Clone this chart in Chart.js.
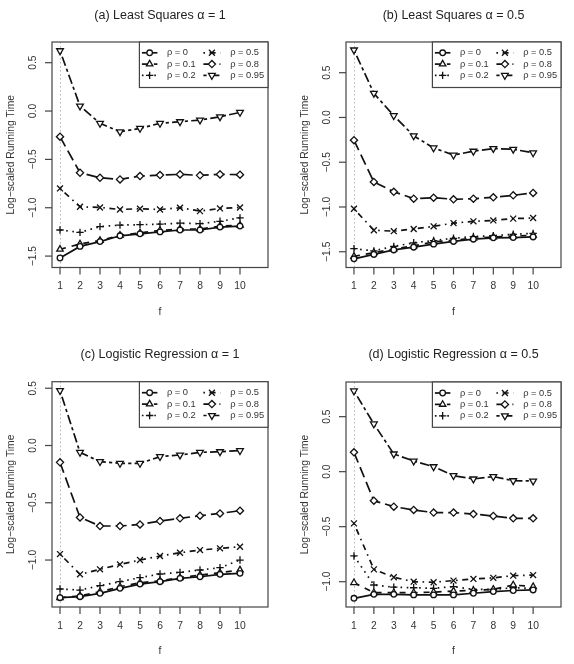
<!DOCTYPE html>
<html><head><meta charset="utf-8">
<script src="https://cdn.jsdelivr.net/npm/chart.js@4.4.1/dist/chart.umd.min.js"></script>
<style>
html,body{margin:0;padding:0;background:#fff;}
#wrap{position:relative;width:574px;height:664px;overflow:hidden;}
canvas{position:absolute;}
</style></head><body>
<div id="wrap">
<canvas id="cA" width="287" height="332" style="left:0;top:0"></canvas>
<canvas id="cB" width="287" height="332" style="left:287px;top:0"></canvas>
<canvas id="cC" width="287" height="332" style="left:0;top:332px"></canvas>
<canvas id="cD" width="287" height="332" style="left:287px;top:332px"></canvas>
</div>
<script>
// ---------- data ----------
const fVals = [1,2,3,4,5,6,7,8,9,10];
const xTicks = [1,2,3,4,5,6,7,8,9,10];
const yTicks = [-1.5,-1.0,-0.5,0.0,0.5];
const rhoLabels = ['ρ = 0','ρ = 0.1','ρ = 0.2','ρ = 0.5','ρ = 0.8','ρ = 0.95'];
const titles = ['(a) Least Squares α = 1','(b) Least Squares α = 0.5','(c) Logistic Regression α = 1','(d) Logistic Regression α = 0.5'];
const xTitle = 'f';
const yTitle = 'Log\u2212scaled Running Time';

// (a) Least Squares alpha = 1
const aRho0   = [-1.52,-1.40,-1.35,-1.29,-1.27,-1.25,-1.23,-1.23,-1.20,-1.19];
const aRho01  = [-1.43,-1.375,-1.34,-1.285,-1.26,-1.235,-1.22,-1.22,-1.19,-1.18];
const aRho02  = [-1.23,-1.255,-1.195,-1.18,-1.175,-1.17,-1.16,-1.165,-1.14,-1.105];
const aRho05  = [-0.80,-0.99,-0.997,-1.018,-1.01,-1.018,-1.00,-1.035,-1.007,-0.997];
const aRho08  = [-0.265,-0.638,-0.69,-0.707,-0.672,-0.662,-0.655,-0.665,-0.655,-0.658];
const aRho095 = [0.624,0.052,-0.127,-0.214,-0.179,-0.127,-0.11,-0.093,-0.059,-0.014];

// (b) Least Squares alpha = 0.5
const bRho0   = [-1.579,-1.53,-1.48,-1.449,-1.415,-1.385,-1.36,-1.345,-1.342,-1.335];
const bRho01  = [-1.552,-1.51,-1.47,-1.435,-1.39,-1.37,-1.35,-1.335,-1.325,-1.315];
const bRho02  = [-1.466,-1.49,-1.44,-1.40,-1.375,-1.35,-1.33,-1.32,-1.305,-1.295];
const bRho05  = [-1.02,-1.26,-1.27,-1.246,-1.216,-1.18,-1.16,-1.15,-1.13,-1.123];
const bRho08  = [-0.254,-0.72,-0.83,-0.907,-0.896,-0.914,-0.907,-0.892,-0.87,-0.843];
const bRho095 = [0.754,0.27,0.02,-0.205,-0.34,-0.42,-0.377,-0.347,-0.355,-0.395];

// (c) Logistic Regression alpha = 1
const cRho0   = [-1.329,-1.32,-1.291,-1.247,-1.21,-1.189,-1.16,-1.146,-1.125,-1.116];
const cRho01  = [-1.329,-1.312,-1.277,-1.233,-1.198,-1.181,-1.154,-1.131,-1.111,-1.087];
const cRho02  = [-1.253,-1.262,-1.224,-1.189,-1.154,-1.122,-1.108,-1.087,-1.067,-1.0];
const cRho05  = [-0.948,-1.125,-1.081,-1.038,-1.0,-0.965,-0.936,-0.913,-0.898,-0.884];
const cRho08  = [-0.147,-0.628,-0.703,-0.703,-0.689,-0.66,-0.636,-0.613,-0.593,-0.569];
const cRho095 = [0.479,-0.06,-0.141,-0.156,-0.156,-0.097,-0.083,-0.06,-0.054,-0.045];

// (d) Logistic Regression alpha = 0.5
const dRho0   = [-1.151,-1.115,-1.115,-1.12,-1.12,-1.12,-1.105,-1.09,-1.08,-1.075];
const dRho01  = [-1.009,-1.10,-1.10,-1.10,-1.095,-1.085,-1.08,-1.07,-1.03,-1.045];
const dRho02  = [-0.766,-1.03,-1.05,-1.055,-1.06,-1.045,-1.07,-1.07,-1.055,-1.06];
const dRho05  = [-0.47,-0.888,-0.96,-1.0,-1.005,-0.99,-0.975,-0.965,-0.945,-0.94];
const dRho08  = [0.176,-0.264,-0.318,-0.348,-0.372,-0.372,-0.385,-0.403,-0.424,-0.424];
const dRho095 = [0.734,0.434,0.161,0.097,0.045,-0.036,-0.066,-0.045,-0.082,-0.085];

// ---------- styles ----------
const LW = 1.7;
const seriesStyle = [
  {dash:[],                 pt:'circle',   r:2.8, rot:0},
  {dash:[6,6],              pt:'triangle', r:3.7, rot:0},
  {dash:[1.6,4.6],          pt:'cross',    r:3.7, rot:0},
  {dash:[1.6,4.6,6,4.6],    pt:'crossRot', r:4.2, rot:0},
  {dash:[11,5],             pt:'rectRot',  r:3.6, rot:0},
  {dash:[3.2,3.2,9.6,3.2],  pt:'triangle', r:3.9, rot:180}
];
const INK = '#111';
const TXT = '#333';
const FONT = '"Liberation Sans", Arial, Helvetica, sans-serif';

const panels = [
  {id:'cA', title:titles[0], titleY:16, series:[aRho0,aRho01,aRho02,aRho05,aRho08,aRho095], ymin:-1.618, ymax:0.714, pad:{left:52,top:42,right:19,bottom:64.5}, legRows:[10.8,22.1,33.4], legH:45.5},
  {id:'cB', title:titles[1], titleY:16, series:[bRho0,bRho01,bRho02,bRho05,bRho08,bRho095], ymin:-1.676, ymax:0.843, pad:{left:59,top:42,right:13,bottom:64.5}, legRows:[10.8,22.1,33.4], legH:45.5},
  {id:'cC', title:titles[2], titleY:23, series:[cRho0,cRho01,cRho02,cRho05,cRho08,cRho095], ymin:-1.41, ymax:0.557, pad:{left:52,top:49.7,right:19,bottom:57}, legRows:[11,22.4,33.8], legH:45.6},
  {id:'cD', title:titles[3], titleY:23, series:[dRho0,dRho01,dRho02,dRho05,dRho08,dRho095], ymin:-1.23, ymax:0.815, pad:{left:59,top:50,right:13,bottom:57}, legRows:[11,22.4,33.8], legH:45.3}
];

function fmtTick(v){
  const s = v.toFixed(1);
  return v < 0 ? '\u2212' + s.slice(1) : s;
}

const framePlugin = {
  id:'rframe',
  beforeDatasetsDraw(chart){
    const ctx = chart.ctx, a = chart.chartArea, xs = chart.scales.x;
    ctx.save();
    ctx.strokeStyle = '#b5b5b5';
    ctx.lineWidth = 1;
    ctx.setLineDash([1.5,2.5]);
    const px = Math.round(xs.getPixelForValue(1)) + 0.5;
    ctx.beginPath(); ctx.moveTo(px, a.top); ctx.lineTo(px, a.bottom); ctx.stroke();
    ctx.restore();
  },
  afterDraw(chart, args, opts){
    const ctx = chart.ctx, a = chart.chartArea, xs = chart.scales.x, ys = chart.scales.y;
    const p = opts.panel;
    ctx.save();
    ctx.setLineDash([]);
    // box
    ctx.strokeStyle = '#444';
    ctx.lineWidth = 1.2;
    ctx.strokeRect(a.left, a.top, a.right - a.left, a.bottom - a.top);
    // x ticks
    ctx.fillStyle = TXT;
    ctx.font = '10.3px ' + FONT;
    ctx.textAlign = 'center';
    ctx.textBaseline = 'middle';
    xTicks.forEach(t => {
      const x = xs.getPixelForValue(t);
      ctx.beginPath(); ctx.moveTo(x, a.bottom); ctx.lineTo(x, a.bottom + 7); ctx.stroke();
      ctx.fillText(String(t), x, a.bottom + 19);
    });
    // y ticks
    yTicks.forEach(t => {
      if (t < p.ymin || t > p.ymax) return;
      const y = ys.getPixelForValue(t);
      ctx.beginPath(); ctx.moveTo(a.left, y); ctx.lineTo(a.left - 7, y); ctx.stroke();
      ctx.save();
      ctx.translate(a.left - 19, y);
      ctx.rotate(-Math.PI/2);
      ctx.fillText(fmtTick(t), 0, 0);
      ctx.restore();
    });
    // axis titles
    ctx.fillText(xTitle, (a.left + a.right)/2, a.bottom + 44.5);
    ctx.save();
    ctx.translate(a.left - 40.5, (a.top + a.bottom)/2);
    ctx.rotate(-Math.PI/2);
    ctx.fillText(yTitle, 0, 0);
    ctx.restore();
    // main title
    ctx.font = '12.5px ' + FONT;
    ctx.fillStyle = '#222';
    ctx.fillText(p.title, (a.left + a.right)/2, p.titleY);
    // legend
    const lw = 128.6, lh = p.legH;
    const lx = a.right - lw, ly = a.top;
    ctx.fillStyle = '#fff';
    ctx.fillRect(lx, ly, lw, lh);
    ctx.strokeStyle = '#444';
    ctx.lineWidth = 1.2;
    ctx.strokeRect(lx, ly, lw, lh);
    ctx.font = '9.3px ' + FONT;
    ctx.textAlign = 'left';
    chart.data.datasets.forEach((ds, i) => {
      const col = i < 3 ? 0 : 1, row = i % 3;
      const y = ly + p.legRows[row];
      const x0 = lx + (col === 0 ? 2.5 : 64);
      const x1 = lx + (col === 0 ? 18 : 81);
      const xt = lx + (col === 0 ? 27.5 : 90.8);
      ctx.strokeStyle = INK;
      ctx.lineWidth = LW;
      ctx.setLineDash(ds.borderDash);
      ctx.beginPath(); ctx.moveTo(x0, y); ctx.lineTo(x1, y); ctx.stroke();
      ctx.setLineDash([]);
      ctx.lineWidth = 1.3;
      ctx.fillStyle = '#fff';
      Chart.helpers.drawPoint(ctx, {pointStyle: ds.pointStyle, radius: ds.pointRadius, rotation: ds.pointRotation, borderWidth: 1.3}, (x0 + x1)/2, y);
      ctx.fillStyle = TXT;
      ctx.fillText(rhoLabels[i], xt, y);
    });
    ctx.restore();
  }
};

panels.forEach(p => {
  const datasets = p.series.map((vals, i) => {
    const s = seriesStyle[i];
    return {
      label: rhoLabels[i],
      data: fVals.map((f, k) => ({x: f, y: vals[k]})),
      borderColor: INK,
      borderWidth: LW,
      borderDash: s.dash,
      backgroundColor: '#fff',
      pointStyle: s.pt,
      pointRadius: s.r,
      pointRotation: s.rot,
      pointBorderWidth: 1.3,
      pointBorderColor: INK,
      pointBackgroundColor: '#fff',
      tension: 0,
      fill: false,
      clip: false
    };
  });
  new Chart(document.getElementById(p.id), {
    type: 'line',
    data: {datasets},
    options: {
      responsive: false,
      animation: false,
      devicePixelRatio: 1,
      layout: {padding: p.pad},
      plugins: {legend: {display: false}, tooltip: {enabled: false}, rframe: {panel: p}},
      scales: {
        x: {type: 'linear', display: false, min: 0.6, max: 11.4},
        y: {type: 'linear', display: false, min: p.ymin, max: p.ymax}
      }
    },
    plugins: [framePlugin]
  });
});
</script>
</body></html>
